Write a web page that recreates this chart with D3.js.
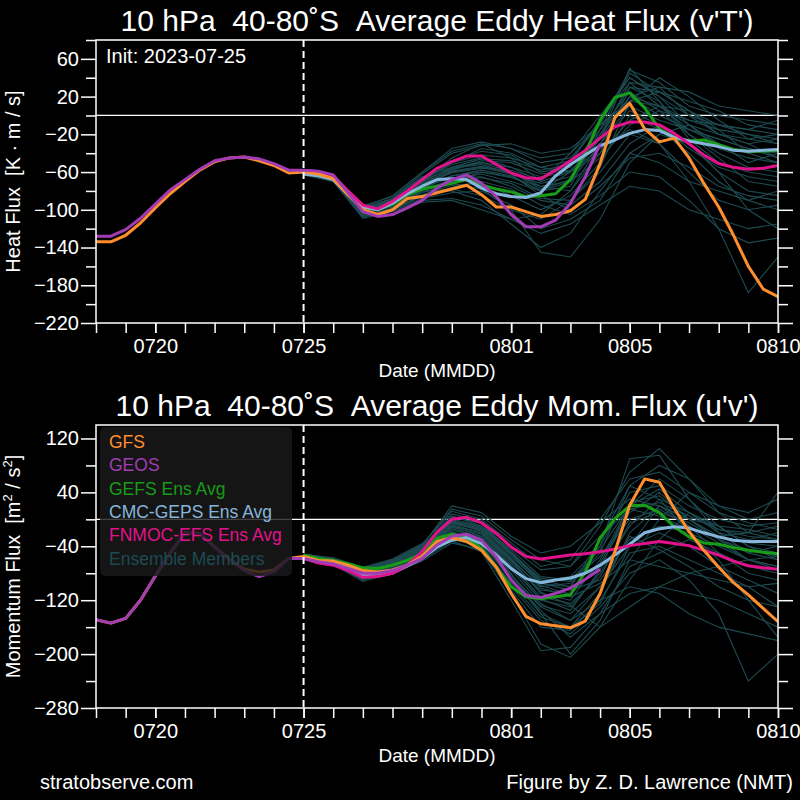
<!DOCTYPE html>
<html>
<head>
<meta charset="utf-8">
<script src="https://cdn.jsdelivr.net/npm/d3@7"></script>
<style>
body { margin: 0; background: #000; }
svg { display: block; font-family: "Liberation Sans", Arial, sans-serif; }
</style>
</head>
<body>
<div class="page"></div>
<script>
// analysis starts 07-18 00Z, forecasts start 07-25 00Z
var startDate = "2023-07-18";
var initDate = "2023-07-25";
var endDate = "2023-08-10";
var xTickDates = ["2023-07-20", "2023-07-25", "2023-08-01", "2023-08-05", "2023-08-10"];

var heatTicks = [60, 20, -20, -60, -100, -140, -180, -220];
var heatMinorTicks = [80, 40, 0, -40, -80, -120, -160, -200];
var momTicks = [120, 40, -40, -120, -200, -280];
var momMinorTicks = [80, 0, -80, -160, -240];

var legendNames = ["GFS", "GEOS", "GEFS Ens Avg", "CMC-GEPS Ens Avg", "FNMOC-EFS Ens Avg", "Ensemble Members"];
var legendColors = ["#ff8f2e", "#a23cb4", "#179d17", "#86b6dc", "#e0138c", "#1d4b51"];

// ---- heat flux, 12-hourly from 07-18 (GFS, GEOS) or from 07-25 (ens avgs)
var gfsHeat = [-134, -134, -127, -114, -98, -83, -70, -58, -49, -45, -44, -48, -53, -61,
    -60, -62, -67, -84, -100, -105, -100, -88, -86, -82, -78, -74, -84, -97, -97, -102, -107,
    -105, -101, -89, -51, -2, 13, -14, -28, -24, -45, -72, -97, -127, -160, -184, -192];
var geosHeat = [-128, -128, -121, -109, -94, -79, -68, -57, -48, -45, -44, -46, -51, -58,
    -58, -59, -63, -82, -102, -107, -105, -98, -90, -77, -68, -63, -72, -86, -105, -118, -118,
    -111, -93, -65, -30];
var gefsHeat = [-61, -63, -67, -82, -97, -100, -94, -84, -78, -75, -72, -68, -74, -78, -81, -86, -85,
    -83, -68, -40, -5, 19, 24, 8, -14, -24, -27, -26, -31, -36, -38, -38, -37];
var cmcHeat = [-62, -64, -68, -84, -97, -100, -93, -83, -75, -68, -67, -68, -77, -83, -86, -87, -82,
    -64, -52, -42, -32, -26, -19, -15, -16, -23, -27, -30, -33, -37, -38, -37, -36];
var fnmocHeat = [-58, -60, -64, -80, -95, -99, -91, -80, -68, -56, -49, -43, -43, -52, -61, -66, -67,
    -58, -48, -37, -24, -12, -7, -7, -10, -19, -30, -42, -51, -55, -57, -56, -53];

// ensemble members, daily from 07-25
var heatMembers = [
    [-58, -64, -100, -92, -70, -50, -35, -40, -55, -60, -20, 20, 10, -10, -20, -30, -25],
    [-60, -68, -105, -100, -85, -70, -60, -65, -80, -70, -30, 10, -5, -15, -25, -35, -40],
    [-62, -66, -102, -92, -70, -45, -30, -45, -70, -40, 0, 40, 20, 0, -10, -20, -30],
    [-59, -64, -98, -88, -65, -55, -50, -60, -75, -80, -40, 30, 25, 5, -15, -40, -50],
    [-61, -70, -108, -98, -80, -78, -85, -100, -110, -90, -60, -20, -30, -60, -90, -100, -95],
    [-57, -63, -97, -85, -60, -35, -28, -35, -50, -45, -10, 48, 35, 10, 0, -5, -10],
    [-60, -67, -103, -96, -80, -80, -90, -115, -140, -125, -80, -40, -50, -70, -80, -90, -100],
    [-58, -65, -100, -90, -68, -52, -45, -55, -70, -60, -25, 50, 15, -20, -40, -55, -60],
    [-63, -69, -106, -100, -88, -82, -80, -95, -120, -110, -90, -40, -20, -30, -60, -80, -85],
    [-59, -64, -99, -88, -62, -40, -32, -30, -40, -35, -10, 15, 25, 15, 5, -10, -15],
    [-61, -68, -104, -97, -82, -72, -78, -100, -145, -150, -110, -50, -20, -10, -30, -50, -40],
    [-60, -66, -101, -93, -74, -60, -55, -62, -72, -65, -25, 35, 30, 0, -20, -25, -20],
    [-62, -67, -103, -95, -76, -66, -65, -75, -90, -95, -70, -30, -10, -30, -60, -100, -120],
    [-58, -64, -98, -88, -66, -48, -38, -42, -60, -55, -15, 25, 5, -5, -15, -20, -25],
    [-60, -69, -105, -99, -84, -74, -72, -85, -100, -85, -50, 0, -15, -40, -70, -90, -80],
    [-59, -65, -100, -94, -73, -61, -56, -58, -68, -50, -5, 40, 20, -10, -35, -45, -50],
    [-61, -66, -102, -96, -79, -68, -62, -70, -80, -60, -35, -15, -30, -70, -120, -188, -150],
    [-57, -63, -96, -86, -60, -38, -30, -35, -45, -40, -10, 15, 10, -5, -10, -15, -5],
    [-62, -68, -107, -101, -90, -88, -95, -110, -125, -115, -95, -75, -80, -100, -110, -120, -115],
    [-60, -65, -99, -92, -71, -59, -54, -60, -78, -68, -20, 30, 15, -25, -50, -60, -65],
    [-58, -66, -101, -94, -75, -64, -60, -66, -75, -70, -45, -10, 5, -20, -45, -70, -75],
    [-63, -70, -109, -102, -92, -90, -100, -110, -105, -80, -30, 20, 0, -15, -30, -40, -35],
    [-59, -64, -97, -90, -69, -57, -50, -55, -65, -60, -40, -5, 10, 5, -20, -30, -45],
    [-61, -67, -103, -97, -80, -70, -66, -72, -88, -90, -55, 15, 40, 20, -5, -25, -30],
    [-60, -66, -101, -94, -72, -58, -48, -50, -62, -58, -30, 5, -10, -35, -55, -65, -70],
    [-58, -63, -98, -91, -70, -56, -52, -62, -85, -100, -75, -45, -40, -55, -75, -85, -90],
    [-61, -67, -104, -96, -78, -64, -58, -64, -80, -75, -15, 45, 25, 5, -10, -15, -20],
    [-59, -65, -100, -93, -70, -55, -46, -48, -58, -52, -25, 20, 30, 25, 10, 5, 0],
    [-62, -69, -106, -99, -86, -76, -70, -78, -95, -105, -85, -60, -65, -90, -120, -135, -130],
    [-60, -64, -99, -90, -68, -50, -42, -45, -55, -48, -5, 35, 10, -15, -25, -35, -45]
];

// ---- momentum flux
var gfsMom = [-149, -154, -147, -120, -84, -50, -20, -21, -41, -59, -74, -78, -75, -58,
    -55, -61, -62, -68, -76, -78, -75, -68, -55, -33, -27, -33, -46, -71, -110, -144, -155,
    -158, -161, -151, -110, -48, 21, 60, 55, 16, -18, -46, -71, -94, -112, -132, -152];
var geosMom = [-149, -154, -147, -120, -84, -50, -20, -21, -41, -60, -76, -85, -78, -58,
    -58, -63, -66, -73, -80, -80, -76, -68, -58, -38, -25, -22, -31, -56, -90, -113, -116,
    -110, -102, -89, -74];
var gefsMom = [-53, -58, -61, -66, -72, -73, -68, -61, -51, -28, -22, -28, -43, -71, -100, -115, -118,
    -115, -112, -78, -28, 1, 20, 21, 10, -11, -26, -35, -37, -42, -46, -49, -51];
var cmcMom = [-56, -62, -66, -72, -83, -84, -80, -69, -58, -41, -31, -27, -36, -53, -73, -88, -94,
    -90, -87, -80, -68, -53, -37, -20, -14, -11, -13, -20, -26, -31, -33, -33, -33];
var fnmocMom = [-58, -65, -68, -76, -86, -85, -80, -68, -48, -19, 0, 3, -5, -21, -41, -55, -59,
    -56, -53, -51, -48, -44, -39, -36, -33, -36, -39, -46, -53, -62, -69, -72, -74];

var momMembers = [
    [-52, -58, -72, -60, -40, 5, -10, -50, -90, -100, -40, 40, 50, 20, 0, -10, -5],
    [-55, -62, -80, -68, -45, -10, -25, -70, -120, -130, -80, -10, 30, 10, -20, -30, -20],
    [-57, -64, -85, -72, -55, -20, -30, -80, -140, -200, -150, -60, 0, 40, 20, 0, 10],
    [-54, -60, -78, -65, -42, -5, -15, -60, -110, -120, -60, 20, 60, 30, -10, -40, -50],
    [-58, -66, -90, -78, -60, -30, -40, -100, -150, -170, -130, -80, -60, -90, -140, -240, -200],
    [-53, -59, -74, -62, -38, 15, 5, -30, -60, -70, -10, 70, 105, 60, 10, -20, -30],
    [-56, -63, -82, -70, -50, -15, -28, -75, -125, -150, -120, -100, -110, -140, -160, -170, -180],
    [-54, -61, -79, -66, -44, -8, -20, -65, -105, -110, -70, 10, 40, 0, -30, -50, -60],
    [-59, -67, -92, -80, -62, -35, -45, -110, -185, -205, -160, -90, -30, 10, -10, -40, -60],
    [-52, -58, -73, -61, -39, 20, 10, -25, -50, -40, -5, 30, 20, 0, -10, -15, -25],
    [-57, -65, -87, -75, -58, -25, -35, -85, -130, -150, -100, -40, -20, -40, -70, -90, -110],
    [-55, -61, -77, -64, -43, -3, -18, -60, -100, -95, -50, 50, 80, 60, 20, 10, 30],
    [-58, -66, -88, -76, -55, -22, -38, -95, -145, -160, -110, -20, 20, -10, -50, -80, -90],
    [-53, -60, -75, -63, -41, 0, -12, -55, -95, -105, -90, -30, -10, -20, -40, -60, -70],
    [-56, -63, -83, -71, -52, -18, -32, -90, -135, -175, -140, -110, -100, -110, -120, -140, -160],
    [-54, -60, -76, -64, -40, 3, -5, -48, -92, -85, -40, 90, 95, 30, -20, -50, -40],
    [-57, -64, -86, -73, -56, -28, -42, -105, -160, -165, -120, -50, -40, -60, -80, -100, -130],
    [-52, -57, -71, -59, -36, 8, -3, -42, -75, -70, -25, 15, 5, -15, -25, -20, -10],
    [-58, -65, -89, -77, -59, -32, -48, -120, -195, -190, -140, -70, -50, -30, -50, -70, -80],
    [-55, -62, -81, -69, -48, -12, -22, -68, -115, -125, -85, -5, 10, -5, -30, -45, -55],
    [-56, -62, -79, -67, -46, -6, -16, -58, -102, -115, -95, -60, -70, -80, -90, -100, -95],
    [-53, -59, -74, -62, -40, 4, -6, -50, -88, -92, -55, 0, 15, -10, -35, -60, -75],
    [-57, -63, -84, -72, -53, -20, -35, -82, -128, -140, -100, -25, -45, -70, -100, -120, -130],
    [-55, -61, -80, -68, -47, -14, -26, -72, -118, -135, -75, 25, 35, 0, -25, -35, -40],
    [-54, -60, -77, -65, -44, -2, -14, -52, -98, -112, -65, 15, 25, 5, -15, -20, 40],
    [-56, -62, -81, -70, -49, -10, -20, -62, -108, -128, -160, -130, -100, -80, -70, -60, -55],
    [-53, -58, -73, -61, -37, 12, 0, -35, -70, -60, 0, 60, 70, 40, 10, -5, -15],
    [-57, -64, -86, -74, -55, -24, -36, -88, -140, -160, -125, -40, 20, 0, -30, -60, -70],
    [-55, -61, -78, -66, -45, -4, -12, -50, -95, -100, -30, 50, 30, -20, -60, -120, -175],
    [-54, -60, -76, -63, -42, 0, -10, -45, -85, -90, -45, 20, 45, 10, -15, -25, -30]
];

var HOUR = 3600 * 1000;
var parseDay = d3.utcParse("%Y-%m-%d");
var fmtTick = d3.utcFormat("%m%d");

var svg = d3.select(".page").append("svg")
    .attr("width", 800)
    .attr("height", 800)
    .style("background", "#000");

var x = d3.scaleUtc()
    .domain([parseDay(startDate), parseDay(endDate)])
    .range([96, 778]);

// turns a value list into [date, value] pairs
function timed(values, start, stepHours) {
    var t0 = parseDay(start).getTime();
    return values.map(function (v, i) { return [new Date(t0 + i * stepHours * HOUR), v]; });
}

function drawPanel(cfg) {
    var y = d3.scaleLinear().domain(cfg.domain).range([cfg.bottom, cfg.top]);
    var g = svg.append("g").attr("class", cfg.id);

    g.append("clipPath").attr("id", "clip-" + cfg.id)
        .append("rect")
        .attr("x", x.range()[0]).attr("y", cfg.top)
        .attr("width", x.range()[1] - x.range()[0]).attr("height", cfg.bottom - cfg.top);

    var plot = g.append("g").attr("clip-path", "url(#clip-" + cfg.id + ")");

    plot.append("line")
        .attr("x1", x.range()[0]).attr("x2", x.range()[1])
        .attr("y1", y(0)).attr("y2", y(0))
        .attr("stroke", "#fff").attr("stroke-width", 1.2);

    var line = d3.line()
        .x(function (d) { return x(d[0]); })
        .y(function (d) { return y(d[1]); });

    plot.selectAll(".member").data(cfg.members)
        .enter().append("path")
        .attr("class", "member")
        .attr("fill", "none")
        .attr("stroke", legendColors[5])
        .attr("stroke-width", 1.1)
        .attr("d", function (d) { return line(timed(d, initDate, 24)); });

    var mains = [
        { v: cfg.gefs, c: legendColors[2], start: initDate },
        { v: cfg.cmc, c: legendColors[3], start: initDate },
        { v: cfg.fnmoc, c: legendColors[4], start: initDate },
        { v: cfg.gfs, c: legendColors[0], start: startDate },
        { v: cfg.geos, c: legendColors[1], start: startDate }
    ];
    plot.selectAll(".main").data(mains)
        .enter().append("path")
        .attr("class", "main")
        .attr("fill", "none")
        .attr("stroke", function (d) { return d.c; })
        .attr("stroke-width", 3)
        .attr("stroke-linejoin", "round")
        .attr("d", function (d) { return line(timed(d.v, d.start, 12)); });

    // init date marker
    g.append("line")
        .attr("x1", x(parseDay(initDate))).attr("x2", x(parseDay(initDate)))
        .attr("y1", cfg.top).attr("y2", cfg.bottom)
        .attr("stroke", "#fff").attr("stroke-width", 2)
        .attr("stroke-dasharray", "7,4");

    // axes
    var left = g.append("g").attr("transform", "translate(" + x.range()[0] + ",0)")
        .call(d3.axisLeft(y).tickValues(cfg.ticks).tickSize(15).tickPadding(2));
    left.select(".domain").remove();
    var leftMinor = g.append("g").attr("transform", "translate(" + x.range()[0] + ",0)")
        .call(d3.axisLeft(y).tickValues(cfg.minor).tickSize(10).tickFormat(""));
    leftMinor.select(".domain").remove();

    var right = g.append("g").attr("transform", "translate(" + x.range()[1] + ",0)")
        .call(d3.axisRight(y).tickValues(cfg.ticks).tickSize(15).tickFormat(""));
    right.select(".domain").remove();
    var rightMinor = g.append("g").attr("transform", "translate(" + x.range()[1] + ",0)")
        .call(d3.axisRight(y).tickValues(cfg.minor).tickSize(10).tickFormat(""));
    rightMinor.select(".domain").remove();

    var bottomDays = g.append("g").attr("transform", "translate(0," + cfg.bottom + ")")
        .call(d3.axisBottom(x).ticks(d3.utcDay.every(1)).tickSize(10).tickFormat(""));
    bottomDays.select(".domain").remove();
    var bottom = g.append("g").attr("transform", "translate(0," + cfg.bottom + ")")
        .call(d3.axisBottom(x).tickValues(xTickDates.map(parseDay)).tickSize(10).tickPadding(6).tickFormat(fmtTick));
    bottom.select(".domain").remove();

    g.selectAll(".tick line").attr("stroke", "#fff").attr("stroke-width", 1.5);
    g.selectAll(".tick text").attr("fill", "#fff").style("font-size", "20px")
        .style("font-family", "\"Liberation Sans\", Arial, sans-serif");

    g.append("rect")
        .attr("x", x.range()[0]).attr("y", cfg.top)
        .attr("width", x.range()[1] - x.range()[0]).attr("height", cfg.bottom - cfg.top)
        .attr("fill", "none").attr("stroke", "#fff").attr("stroke-width", 1.5);

    g.append("text")
        .attr("x", 437).attr("y", cfg.top - 9)
        .attr("text-anchor", "middle")
        .attr("fill", "#fff")
        .style("font-size", "30px")
        .text(cfg.title);

    g.append("text")
        .attr("x", 437).attr("y", cfg.bottom + 54)
        .attr("text-anchor", "middle")
        .attr("fill", "#fff")
        .style("font-size", "19px")
        .text("Date (MMDD)");

    var ylab = g.append("text")
        .attr("transform", "translate(20," + (cfg.top + cfg.bottom) / 2 + ") rotate(-90)")
        .attr("text-anchor", "middle")
        .attr("fill", "#fff")
        .style("font-size", "20px");
    cfg.ylabel(ylab);

    return { g: g, y: y };
}

var heatPanel = drawPanel({
    id: "heat", top: 40, bottom: 323, domain: [-220, 80],
    ticks: heatTicks, minor: heatMinorTicks,
    members: heatMembers, gfs: gfsHeat, geos: geosHeat, gefs: gefsHeat, cmc: cmcHeat, fnmoc: fnmocHeat,
    title: "10 hPa\u00a0\u00a040-80\u02daS\u00a0\u00a0Average Eddy Heat Flux (v'T')",
    ylabel: function (t) { t.text("Heat Flux\u00a0\u00a0[K \u00b7 m / s]"); }
});

heatPanel.g.append("text")
    .attr("x", 106).attr("y", 63)
    .attr("fill", "#fff")
    .style("font-size", "20px")
    .text("Init: " + initDate);

var momPanel = drawPanel({
    id: "mom", top: 425, bottom: 708, domain: [-280, 140],
    ticks: momTicks, minor: momMinorTicks,
    members: momMembers, gfs: gfsMom, geos: geosMom, gefs: gefsMom, cmc: cmcMom, fnmoc: fnmocMom,
    title: "10 hPa\u00a0\u00a040-80\u02daS\u00a0\u00a0Average Eddy Mom. Flux (u'v')",
    ylabel: function (t) {
        t.append("tspan").text("Momentum Flux\u00a0\u00a0[m");
        t.append("tspan").attr("dy", -8).style("font-size", "13px").text("2");
        t.append("tspan").attr("dy", 8).text(" / s");
        t.append("tspan").attr("dy", -8).style("font-size", "13px").text("2");
        t.append("tspan").attr("dy", 8).text("]");
    }
});

// legend
var legend = momPanel.g.append("g").attr("class", "legend");
legend.append("rect")
    .attr("x", 100).attr("y", 427)
    .attr("width", 192).attr("height", 149)
    .attr("rx", 5)
    .attr("fill", "#1a1a1a")
    .attr("opacity", 0.82);
legend.selectAll(".item").data(legendNames)
    .enter().append("text")
    .attr("class", "item")
    .attr("x", 109)
    .attr("y", function (d, i) { return 448 + i * 23.3; })
    .attr("fill", function (d, i) { return legendColors[i]; })
    .style("font-size", "17.5px")
    .text(function (d) { return d; });

svg.append("text")
    .attr("x", 40).attr("y", 789)
    .attr("fill", "#fff")
    .style("font-size", "20px")
    .text("stratobserve.com");

svg.append("text")
    .attr("x", 793).attr("y", 789)
    .attr("text-anchor", "end")
    .attr("fill", "#fff")
    .style("font-size", "20px")
    .text("Figure by Z. D. Lawrence (NMT)");
</script>
</body>
</html>
